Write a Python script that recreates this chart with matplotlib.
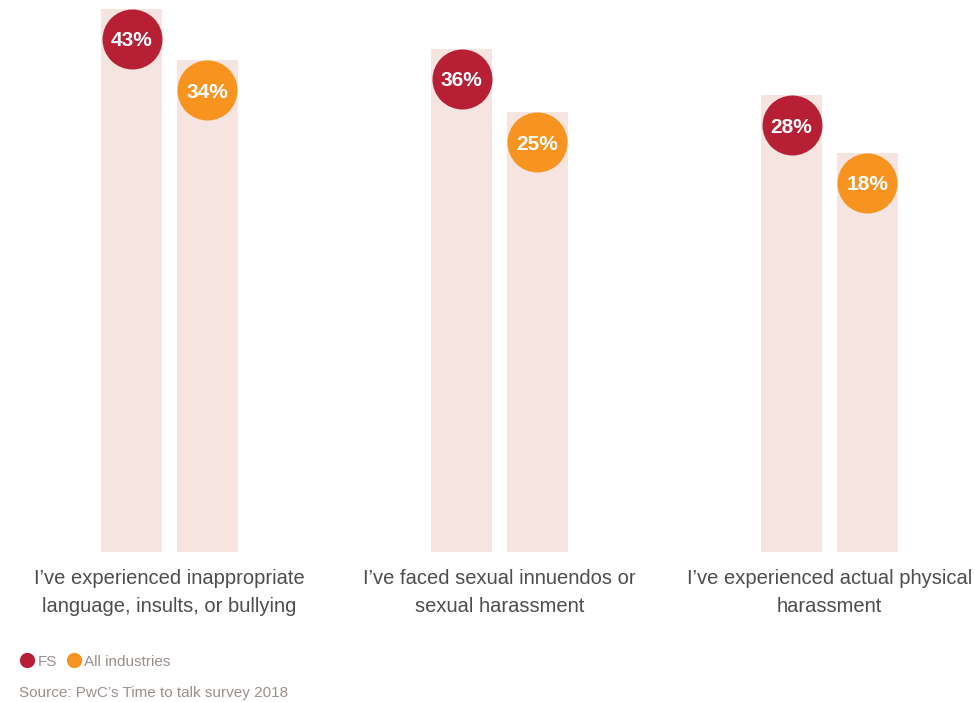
import matplotlib
matplotlib.use("Agg")
import matplotlib.pyplot as plt
import matplotlib.transforms as mtransforms
from matplotlib.lines import Line2D
import numpy as np

categories = ["I\u2019ve experienced inappropriate\nlanguage, insults, or bullying",
              "I\u2019ve faced sexual innuendos or\nsexual harassment",
              "I\u2019ve experienced actual physical\nharassment"]
fs_values = [43, 36, 28]
all_values = [34, 25, 18]
series_names = ["FS", "All industries"]

red = "#b71f35"
orange = "#f7931f"
pink = "#f5e4df"
dark = "#4d4d4d"
grey = "#9c8f8c"

plt.rcParams['font.family'] = ['Liberation Sans', 'DejaVu Sans']

fig = plt.figure(figsize=(9.75, 7.02), dpi=100)
ax = fig.add_axes([0, 0.2137, 1, 0.7863])
base = -51.3
ax.set_ylim(base, 44.5)
ax.set_xlim(-0.5136, 2.441)
ax.axis("off")

x = np.arange(len(categories))
off = 0.115
w = 0.185
ax.bar(x - off, np.array(fs_values) - base, bottom=base, width=w, color=pink, zorder=1)
ax.bar(x + off, np.array(all_values) - base, bottom=base, width=w, color=pink, zorder=1)

# circles sit inside the top of each bar
shift = mtransforms.ScaledTranslation(0, -0.30, fig.dpi_scale_trans)
tr = ax.transData + shift
ax.scatter(x - off, fs_values, s=(60 * 0.72) ** 2, color=red, transform=tr, zorder=2, linewidths=0)
ax.scatter(x + off, all_values, s=(60 * 0.72) ** 2, color=orange, transform=tr, zorder=2, linewidths=0)
for i in range(len(x)):
    ax.text(x[i] - off, fs_values[i], f"{fs_values[i]}%", transform=tr, ha="center", va="center_baseline",
            color="white", fontsize=15, fontweight="bold", zorder=3)
    ax.text(x[i] + off, all_values[i], f"{all_values[i]}%", transform=tr, ha="center", va="center_baseline",
            color="white", fontsize=15, fontweight="bold", zorder=3)
    ax.text(x[i], base, categories[i], ha="center", va="top", color=dark, fontsize=14.5,
            linespacing=1.62, transform=ax.transData + mtransforms.ScaledTranslation(0, -0.17, fig.dpi_scale_trans))

# legend
ly = 1 - 660 / 702
fig.add_artist(Line2D([27 / 975], [ly], marker="o", markersize=11, color=red, linestyle="none",
                      markeredgewidth=0, transform=fig.transFigure))
fig.text(38 / 975, ly, series_names[0], ha="left", va="center_baseline", color=grey, fontsize=11)
fig.add_artist(Line2D([74 / 975], [ly], marker="o", markersize=11, color=orange, linestyle="none",
                      markeredgewidth=0, transform=fig.transFigure))
fig.text(84 / 975, ly, series_names[1], ha="left", va="center_baseline", color=grey, fontsize=11)
fig.text(19 / 975, 1 - 691 / 702, "Source: PwC\u2019s Time to talk survey 2018", ha="left", va="center_baseline",
         color=grey, fontsize=11)

fig.savefig("out.png", dpi=100)
